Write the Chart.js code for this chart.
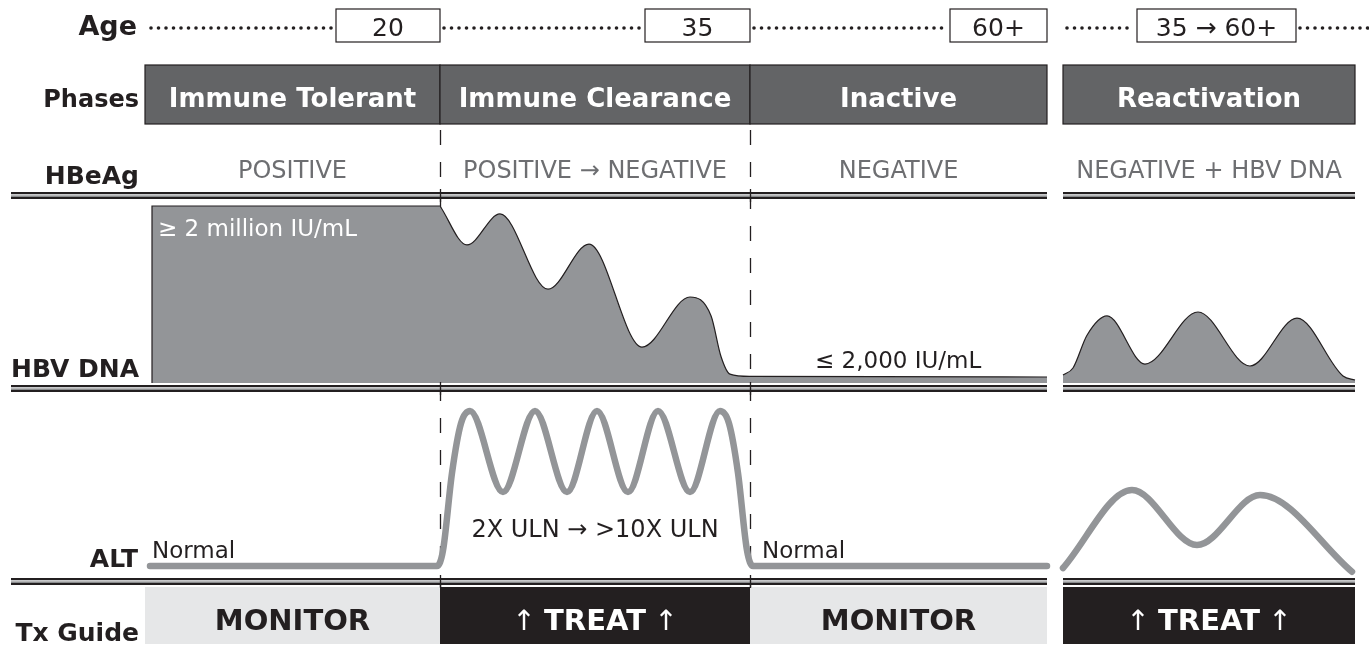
<!DOCTYPE html>
<html>
<head>
<meta charset="utf-8">
<script src="https://cdn.jsdelivr.net/npm/chart.js@4.4.1/dist/chart.umd.min.js"></script>
<style>
  html, body { margin: 0; padding: 0; background: #fff; }
  #wrap { position: relative; width: 1369px; height: 645px; }
</style>
</head>
<body>
<div id="wrap"><canvas id="chart"></canvas></div>
<script>
// x axis = disease timeline in stage units, phases laid end to end
const phases = ['Immune Tolerant', 'Immune Clearance', 'Inactive', 'Reactivation'];
const ages = ['20', '35', '60+', '35 \u2192 60+'];
const hbeag = ['POSITIVE', 'POSITIVE \u2192 NEGATIVE', 'NEGATIVE', 'NEGATIVE + HBV DNA'];
const txGuide = ['MONITOR', 'TREAT', 'MONITOR', 'TREAT'];
const phaseStart = [0, 29.5, 60.5, 91.8];
const phaseEnd = [29.5, 60.5, 90.2, 121];

// HBV DNA level: 0 = baseline, 100 = >= 2 million IU/mL
const dnaTolerant = [[0.7, 0], [0.7, 100], [29.5, 100]];
const dnaClearance = [[29.5, 100], [32.2, 78], [35.5, 95.5], [40.3, 53], [44.4, 78.5], [49.7, 20.3],
  [54.5, 48.6], [56.6, 38], [57.6, 15], [58.5, 5], [60.5, 3.7], [90.2, 3.4]];
const dnaReactivation = [[91.8, 4.5], [92.8, 8.5], [94.2, 27], [96.2, 37.9], [100, 10.7],
  [105.3, 40.1], [110.5, 9.6], [115.2, 36.7], [119.8, 4], [121, 1.7]];

// ALT level: 0 = normal, 100 = >10X ULN
const altMain = [[0.5, 0], [29.2, 0], [29.8, 10], [30.7, 60], [31.6, 92], [32.5, 100], [35.8, 47.7],
  [39, 100], [42.2, 47.7], [45.2, 100], [48.3, 47.7], [51.3, 100], [54.5, 47.7], [57.5, 100],
  [58.4, 92], [59.3, 60], [60.2, 10], [60.8, 0], [90.2, 0]];
const altReactivation = [[91.8, -1.3], [98.7, 49], [105.2, 13.5], [111.5, 45.8], [120.7, -3.7]];

const INK = '#231f20', GREY = '#939598', PHASE = '#636466', HBE = '#6d6e71', LIGHT = '#e6e7e8';
const BOLD = 'bold {s}px "DejaVu Sans", sans-serif';
const REG = '{s}px "DejaVu Sans", sans-serif';
const f = (tpl, s) => tpl.replace('{s}', s);

const W = 1369, H = 645;
// row bands in pixels
const rows = {
  labelRight: 139,
  ageMid: 26, ageBox: [9, 42], ageBase: 35,
  phaseBox: [65, 124], phaseBase: 106,
  hbeagBase: 178,
  seps: [192, 385, 578],
  dnaZero: 383, dnaFull: 206,
  altZero: 566, altFull: 411,
  txBox: [587, 644], txBase: 630
};
const ageBoxSpan = [[19.1, 29.5], [50, 60.5], [80.5, 90.2], [99.2, 115.1]];

function band(zeroPx, fullPx) {
  const range = 100 * H / (zeroPx - fullPx);
  const max = zeroPx / H * range;
  return { min: max - range, max: max };
}
const dnaBand = band(rows.dnaZero, rows.dnaFull);
const altBand = band(rows.altZero, rows.altFull);

const pts = arr => arr.map(p => ({ x: p[0], y: p[1] }));

function txt(ctx, s, x, y, font, color, align) {
  ctx.font = font;
  ctx.fillStyle = color;
  ctx.textAlign = align || 'center';
  ctx.textBaseline = 'alphabetic';
  ctx.fillText(s, x, y);
}

function separator(ctx, x0, x1, y) {
  ctx.fillStyle = INK; ctx.fillRect(x0, y, x1 - x0, 2);
  ctx.fillStyle = '#c7c8ca'; ctx.fillRect(x0, y + 2, x1 - x0, 1.5);
  ctx.fillStyle = '#8a8c8e'; ctx.fillRect(x0, y + 3.5, x1 - x0, 1.5);
  ctx.fillStyle = INK; ctx.fillRect(x0, y + 5, x1 - x0, 2);
}

const layoutPlugin = {
  id: 'hbvLayout',
  beforeDatasetsDraw(chart) {
    const ctx = chart.ctx;
    const X = v => chart.scales.x.getPixelForValue(v);
    ctx.save();

    // age row: dotted timeline and boxes
    txt(ctx, 'Age', rows.labelRight - 2, rows.ageBase, f(BOLD, 27), INK, 'right');
    const boxes = ageBoxSpan.map(s => [X(s[0]), X(s[1])]);
    const dotRuns = [
      [151, boxes[0][0] - 3], [boxes[0][1] + 4, boxes[1][0] - 3], [boxes[1][1] + 4, boxes[2][0] - 3],
      [X(phaseStart[3]) + 4, boxes[3][0] - 3], [boxes[3][1] + 4, W]
    ];
    ctx.fillStyle = INK;
    dotRuns.forEach(r => {
      for (let x = r[0]; x <= r[1]; x += 7.5) {
        ctx.beginPath(); ctx.arc(x, rows.ageMid + 2, 1.8, 0, Math.PI * 2); ctx.fill();
      }
    });
    boxes.forEach((b, i) => {
      ctx.fillStyle = '#fff';
      ctx.fillRect(b[0], rows.ageBox[0], b[1] - b[0], rows.ageBox[1] - rows.ageBox[0]);
      ctx.strokeStyle = INK; ctx.lineWidth = 1.2;
      ctx.strokeRect(b[0], rows.ageBox[0], b[1] - b[0], rows.ageBox[1] - rows.ageBox[0]);
      txt(ctx, ages[i], (b[0] + b[1]) / 2, rows.ageBase + 1, f(REG, 25), INK);
    });

    // phases
    txt(ctx, 'Phases', rows.labelRight, rows.phaseBase + 1, f(BOLD, 24), INK, 'right');
    phases.forEach((p, i) => {
      const x0 = X(phaseStart[i]), x1 = X(phaseEnd[i]);
      const y0 = rows.phaseBox[0], h = rows.phaseBox[1] - rows.phaseBox[0];
      ctx.fillStyle = PHASE; ctx.fillRect(x0, y0, x1 - x0, h);
      ctx.strokeStyle = INK; ctx.lineWidth = 1.2; ctx.strokeRect(x0, y0, x1 - x0, h);
      txt(ctx, p, (x0 + x1) / 2, rows.phaseBase + 1, f(BOLD, 26), '#fff');
    });

    // HBeAg status
    txt(ctx, 'HBeAg', rows.labelRight, rows.hbeagBase + 6, f(BOLD, 25), INK, 'right');
    hbeag.forEach((s, i) => {
      txt(ctx, s, X((phaseStart[i] + phaseEnd[i]) / 2), rows.hbeagBase, f(REG, 24), HBE);
    });

    // dashed phase boundaries
    ctx.strokeStyle = INK; ctx.lineWidth = 1.3;
    ctx.setLineDash([15, 17]);
    [phaseStart[1], phaseStart[2]].forEach(v => {
      const x = Math.round(X(v)) + 0.5;
      ctx.beginPath(); ctx.moveTo(x, rows.phaseBox[1] + 6); ctx.lineTo(x, rows.txBox[0]); ctx.stroke();
    });
    ctx.setLineDash([]);

    // row labels
    txt(ctx, 'HBV DNA', rows.labelRight, 377, f(BOLD, 25), INK, 'right');
    txt(ctx, 'ALT', rows.labelRight - 1, 567, f(BOLD, 25), INK, 'right');

    // treatment guide
    txt(ctx, 'Tx Guide', rows.labelRight, 641, f(BOLD, 25), INK, 'right');
    txGuide.forEach((t, i) => {
      const x0 = X(phaseStart[i]), x1 = X(phaseEnd[i]);
      const treat = t === 'TREAT';
      ctx.fillStyle = treat ? INK : LIGHT;
      ctx.fillRect(x0, rows.txBox[0], x1 - x0, rows.txBox[1] - rows.txBox[0]);
      const cx = (x0 + x1) / 2;
      if (treat) {
        txt(ctx, t, cx, rows.txBase, f(BOLD, 29), '#fff');
        ctx.font = f(BOLD, 29);
        const hw = ctx.measureText(t).width / 2;
        txt(ctx, '\u2191', cx - hw - 20, rows.txBase, f(REG, 28), '#fff');
        txt(ctx, '\u2191', cx + hw + 20, rows.txBase, f(REG, 28), '#fff');
      } else {
        txt(ctx, t, cx, rows.txBase, f(BOLD, 29), INK);
      }
    });
    ctx.restore();
  },
  afterDatasetsDraw(chart) {
    const ctx = chart.ctx;
    const X = v => chart.scales.x.getPixelForValue(v);
    ctx.save();
    rows.seps.forEach(y => {
      separator(ctx, 11, X(phaseEnd[2]), y);
      separator(ctx, X(phaseStart[3]), X(phaseEnd[3]), y);
    });
    // solid ticks where the boundaries cross the separators
    ctx.strokeStyle = INK; ctx.lineWidth = 1.3;
    [phaseStart[1], phaseStart[2]].forEach(v => {
      const x = Math.round(X(v)) + 0.5;
      rows.seps.forEach(y => {
        ctx.beginPath(); ctx.moveTo(x, y - 3); ctx.lineTo(x, y + 10); ctx.stroke();
      });
    });

    // annotations
    txt(ctx, '\u2265 2 million IU/mL', X(phaseStart[0]) + 13, 236, f(REG, 23), '#fff', 'left');
    txt(ctx, '\u2264 2,000 IU/mL', X(phaseStart[2]) + 65, 368, f(REG, 23), INK, 'left');
    txt(ctx, 'Normal', X(phaseStart[0]) + 7, 558, f(REG, 23), INK, 'left');
    txt(ctx, 'Normal', X(phaseStart[2]) + 12, 558, f(REG, 23), INK, 'left');
    txt(ctx, '2X ULN \u2192 >10X ULN', (X(phaseStart[1]) + X(phaseEnd[1])) / 2, 537, f(REG, 24), INK);
    ctx.restore();
  }
};

const dnaStyle = {
  yAxisID: 'yDna', backgroundColor: GREY, borderColor: INK, borderWidth: 1.2,
  fill: 'origin', pointRadius: 0
};
const altStyle = {
  yAxisID: 'yAlt', borderColor: GREY, borderWidth: 6.5, fill: false, pointRadius: 0,
  borderCapStyle: 'round', borderJoinStyle: 'round', cubicInterpolationMode: 'monotone'
};

new Chart(document.getElementById('chart'), {
  type: 'line',
  data: {
    datasets: [
      Object.assign({ label: 'HBV DNA tolerant', data: pts(dnaTolerant), tension: 0 }, dnaStyle),
      Object.assign({ label: 'HBV DNA clearance', data: pts(dnaClearance), cubicInterpolationMode: 'monotone' }, dnaStyle),
      Object.assign({ label: 'HBV DNA reactivation', data: pts(dnaReactivation), cubicInterpolationMode: 'monotone' }, dnaStyle),
      Object.assign({ label: 'ALT', data: pts(altMain) }, altStyle),
      Object.assign({ label: 'ALT reactivation', data: pts(altReactivation) }, altStyle)
    ]
  },
  options: {
    responsive: true,
    maintainAspectRatio: false,
    animation: false,
    events: [],
    layout: { padding: 0, autoPadding: false },
    plugins: { legend: { display: false }, tooltip: { enabled: false } },
    scales: {
      x: { type: 'linear', min: -14.5, max: -14.5 + W / 10, display: false },
      yDna: { type: 'linear', min: dnaBand.min, max: dnaBand.max, display: false },
      yAlt: { type: 'linear', min: altBand.min, max: altBand.max, display: false }
    }
  },
  plugins: [layoutPlugin]
});
</script>
</body>
</html>
